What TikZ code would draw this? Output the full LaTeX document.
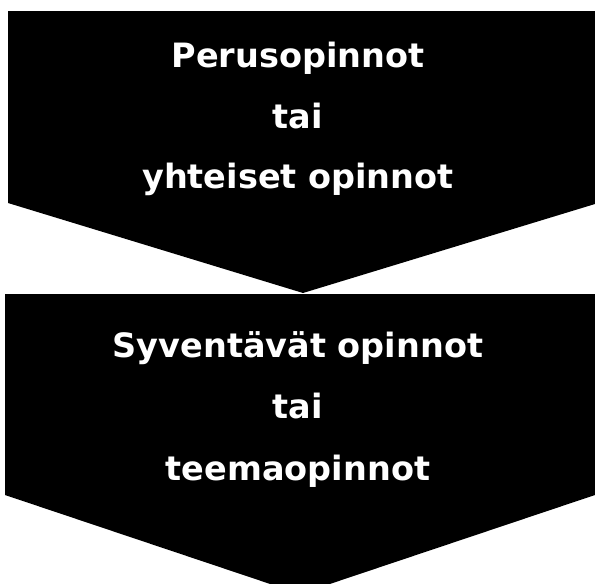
\documentclass[tikz,border=0pt]{standalone}
\usepackage{fontspec}
\setmainfont{DejaVu Sans}
\begin{document}
\begin{tikzpicture}[x=1pt,y=-1pt,
  chev/.style={fill=black,draw=none},
  lbl/.style={text=white,font=\fontsize{33.5}{40}\selectfont\bfseries,anchor=base,inner sep=0pt}]
\useasboundingbox (0,0) rectangle (595,584);
\clip (0,0) rectangle (595,584);
\fill[chev] (8,11) -- (595,11) -- (595,204) -- (303,293) -- (8,203) -- cycle;
\fill[chev] (5,294) -- (595,294) -- (595,495) -- (300,594) -- (5,495) -- cycle;
\node[lbl] (a1) at (298,67) {Perusopinnot};
\node[lbl] (a2) at (298,128) {tai};
\node[lbl] (a3) at (298,188) {yhteiset opinnot};
\node[lbl] (b1) at (298,357) {Syventävät opinnot};
\node[lbl] (b2) at (298,418) {tai};
\node[lbl] (b3) at (298,480) {teemaopinnot};
\end{tikzpicture}
\end{document}
